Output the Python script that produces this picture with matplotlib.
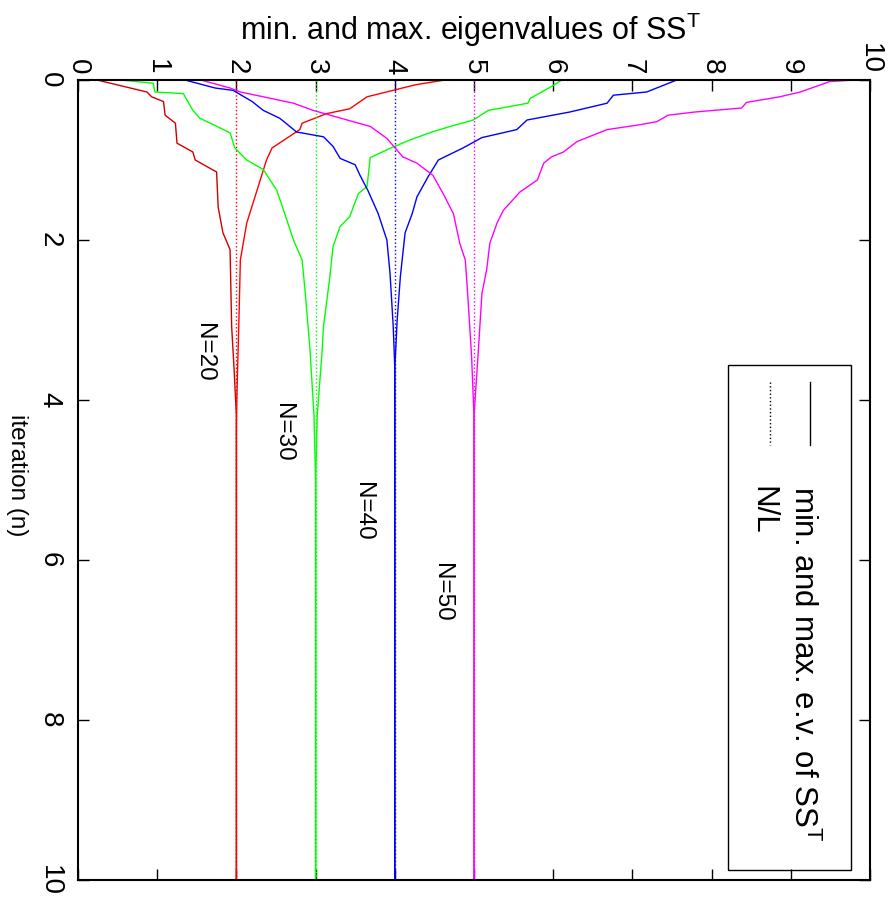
import matplotlib
matplotlib.use("Agg")
import matplotlib.pyplot as plt
from matplotlib.patches import Rectangle

plt.rcParams['font.family'] = ['Liberation Sans', 'DejaVu Sans']
plt.rcParams['mathtext.fontset'] = 'custom'
plt.rcParams['mathtext.rm'] = 'Liberation Sans'
plt.rcParams['mathtext.it'] = 'Liberation Sans:italic'

# ---- data ----
N_values = [20, 30, 40, 50]
colors = ['#ff0000', '#00ff00', '#0000ff', '#ff00ff']
min_colors = ['#cc0000', '#00ff00', '#0000ff', '#ff00ff']
labels = ['N=20', 'N=30', 'N=40', 'N=50']

red_min_n = [0, 0.15, 0.21, 0.27, 0.44, 0.54, 0.79, 0.9, 1.0, 1.15, 1.59, 1.91, 2.12, 2.6, 3.08, 3.6, 4.2, 10]
red_min_v = [0.24, 0.87, 0.93, 1.08, 1.1, 1.23, 1.25, 1.45, 1.48, 1.75, 1.77, 1.83, 1.92, 1.93, 1.94, 1.97, 2.0, 2.0]
red_max_n = [0, 0.06, 0.21, 0.36, 0.42, 0.54, 0.62, 0.85, 1.0, 1.38, 1.79, 2.25, 3.08, 3.8, 4.3, 10]
red_max_v = [4.63, 4.26, 3.65, 3.43, 3.14, 2.83, 2.8, 2.45, 2.38, 2.26, 2.13, 2.05, 2.03, 2.01, 2.0, 2.0]

green_min_n = [0, 0.04, 0.15, 0.17, 0.38, 0.48, 0.54, 0.66, 0.85, 1.0, 1.12, 1.38, 1.67, 2.0, 2.25, 2.67, 3.38, 4.2, 5.0, 10]
green_min_v = [0.53, 0.95, 0.97, 1.33, 1.45, 1.54, 1.67, 1.92, 1.98, 2.13, 2.34, 2.51, 2.61, 2.72, 2.83, 2.87, 2.93, 2.98, 3.0, 3.0]
green_max_n = [0, 0.08, 0.23, 0.29, 0.38, 0.5, 0.58, 0.65, 0.75, 0.85, 0.97, 1.33, 1.42, 1.71, 1.83, 2.08, 2.46, 3.08, 3.42, 4.2, 5.0, 10]
green_max_v = [6.11, 5.98, 5.71, 5.68, 5.18, 4.99, 4.7, 4.47, 4.19, 3.95, 3.69, 3.65, 3.54, 3.43, 3.31, 3.22, 3.18, 3.1, 3.08, 3.02, 3.0, 3.0]

blue_min_n = [0, 0.1, 0.13, 0.27, 0.38, 0.48, 0.65, 0.71, 0.83, 0.98, 1.06, 1.19, 1.38, 1.67, 2.0, 2.42, 3.08, 3.6, 10]
blue_min_v = [1.35, 1.73, 1.96, 2.2, 2.34, 2.55, 2.76, 3.1, 3.22, 3.31, 3.5, 3.56, 3.66, 3.79, 3.9, 3.94, 3.98, 4.0, 4.0]
blue_max_n = [0, 0.15, 0.19, 0.29, 0.4, 0.5, 0.62, 0.72, 0.85, 1.0, 1.21, 1.46, 1.67, 1.91, 2.46, 3.0, 3.6, 10]
blue_max_v = [7.56, 7.18, 6.76, 6.68, 6.21, 5.67, 5.54, 5.1, 4.86, 4.55, 4.42, 4.28, 4.22, 4.13, 4.07, 4.03, 4.0, 4.0]

mag_min_n = [0, 0.1, 0.15, 0.21, 0.29, 0.38, 0.52, 0.58, 0.73, 0.96, 1.04, 1.19, 1.42, 1.67, 2.04, 2.25, 2.67, 3.46, 4.2, 10]
mag_min_v = [1.55, 1.92, 2.05, 2.34, 2.72, 2.97, 3.47, 3.69, 3.9, 4.1, 4.28, 4.48, 4.61, 4.74, 4.82, 4.89, 4.92, 4.97, 5.0, 5.0]
mag_max_n = [0, 0.02, 0.15, 0.21, 0.28, 0.35, 0.4, 0.44, 0.52, 0.56, 0.62, 0.77, 0.9, 0.96, 1.04, 1.25, 1.4, 1.63, 1.79, 2.04, 2.37, 2.67, 3.46, 4.2, 10]
mag_max_v = [9.81, 9.49, 9.12, 8.86, 8.44, 8.38, 7.79, 7.45, 7.31, 7.09, 6.68, 6.3, 6.13, 5.98, 5.88, 5.8, 5.58, 5.37, 5.29, 5.2, 5.16, 5.1, 5.05, 5.0, 5.0]

label_pos_v = [1.59, 2.59, 3.6, 4.6]
label_pos_n = [3.4, 4.4, 5.39, 6.4]

x_ticks = list(range(0, 11))
y_ticks = [0, 2, 4, 6, 8, 10]

mins = [(red_min_n, red_min_v), (green_min_n, green_min_v), (blue_min_n, blue_min_v), (mag_min_n, mag_min_v)]
maxs = [(red_max_n, red_max_v), (green_max_n, green_max_v), (blue_max_n, blue_max_v), (mag_max_n, mag_max_v)]

# ---- figure ----
fig = plt.figure(figsize=(8.91, 8.97), dpi=100)
ax = fig.add_axes([78/891, 1 - 880/897, 792/891, 800/897])

for i, N in enumerate(N_values):
    ax.plot([N / 10, N / 10], [0, 10], linestyle=':', color=colors[i], lw=1.0)
    ax.plot(mins[i][1], mins[i][0], color=min_colors[i], lw=1.0)
    ax.plot(maxs[i][1], maxs[i][0], color=colors[i], lw=1.0)
    ax.text(label_pos_v[i], label_pos_n[i], labels[i], rotation=-90,
            ha='center', va='center', fontsize=17.5)

ax.set_xlim(0, 10)
ax.set_ylim(10, 0)
ax.set_xticks(x_ticks)
ax.set_yticks(y_ticks)
ax.xaxis.tick_top()
ax.tick_params(axis='both', which='both', direction='in', length=8, width=1,
               top=True, bottom=True, left=True, right=True, labelsize=20)
ax.tick_params(axis='x', pad=4, labeltop=True, labelbottom=False)
ax.tick_params(axis='y', pad=11)
for lab in ax.get_xticklabels():
    lab.set_rotation(-90)
    lab.set_va('bottom')
    lab.set_ha('center')
for lab in ax.get_yticklabels():
    lab.set_rotation(-90)
    lab.set_va('center')
for s in ax.spines.values():
    s.set_linewidth(1.5)

fig.text(470/891, 1 - 40/897, 'min. and max. eigenvalues of SS$^{\\mathrm{T}}$',
         ha='center', va='baseline', fontsize=22)
fig.text(17/891, 1 - 475/897, 'iteration (n)', rotation=-90,
         ha='center', va='center', fontsize=17.5)

# legend (drawn rotated, like the rest of the chart)
ax.add_patch(Rectangle((8.21, 3.56), 1.55, 6.32, fill=False, edgecolor='black', lw=1.0, zorder=5))
ax.plot([9.24, 9.24], [3.78, 4.56], color='black', lw=1.0, zorder=6)
ax.plot([8.74, 8.74], [3.78, 4.56], color='black', lw=1.0, linestyle=':', zorder=6)
ax.text(9.15, 5.08, 'min. and max. e.v. of SS$^{\\mathrm{T}}$', rotation=-90,
        ha='center', va='top', fontsize=22.5, zorder=6)
ax.text(8.64, 5.08, 'N/L', rotation=-90, ha='center', va='top', fontsize=22.5,
        zorder=6)

fig.savefig('out.png', dpi=100)
